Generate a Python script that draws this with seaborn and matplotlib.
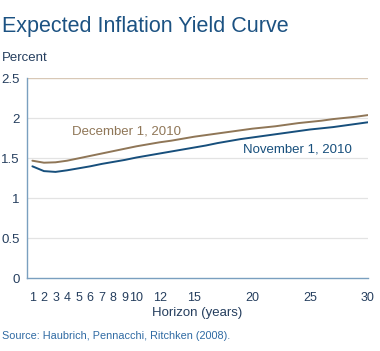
import numpy as np
import pandas as pd
import matplotlib
matplotlib.use('Agg')
import matplotlib.pyplot as plt
import seaborn as sns

years = list(range(1, 31))
nov_2010 = [1.40, 1.34, 1.33, 1.35, 1.375, 1.40, 1.43, 1.455, 1.48, 1.51,
            1.535, 1.56, 1.585, 1.61, 1.635, 1.66, 1.69, 1.715, 1.74, 1.76,
            1.78, 1.80, 1.82, 1.84, 1.86, 1.875, 1.89, 1.91, 1.93, 1.95]
dec_2010 = [1.47, 1.445, 1.45, 1.47, 1.50, 1.53, 1.56, 1.59, 1.62, 1.65,
            1.675, 1.70, 1.72, 1.745, 1.77, 1.79, 1.81, 1.83, 1.85, 1.87,
            1.885, 1.90, 1.92, 1.94, 1.955, 1.97, 1.99, 2.005, 2.02, 2.04]
xtick_vals = [1, 2, 3, 4, 5, 6, 7, 8, 9, 10, 12, 15, 20, 25, 30]
ytick_vals = [0, 0.5, 1, 1.5, 2, 2.5]
ytick_labels = ['0', '0.5', '1', '1.5', '2', '2.5']

df = pd.DataFrame({
    'year': years * 2,
    'value': nov_2010 + dec_2010,
    'series': ['November 1, 2010'] * 30 + ['December 1, 2010'] * 30,
})

sns.set_style('white')
plt.rcParams['font.family'] = ['Liberation Sans', 'DejaVu Sans']

navy = '#174f7c'
brown = '#8f7657'
text_col = '#253e5e'
axis_col = '#7a9fbf'

fig = plt.figure(figsize=(3.8, 3.51), dpi=100)
ax = fig.add_axes([0.070, 0.207, 0.898, 0.570])

# gridlines
for v in ytick_vals[1:-1]:
    ax.axhline(v, color='#e3e3e3', lw=0.9, zorder=0)
ax.axhline(2.5, color='#d8c8b6', lw=1.0, zorder=0)

sns.lineplot(data=df, x='year', y='value', hue='series',
             palette={'November 1, 2010': navy, 'December 1, 2010': brown},
             lw=1.4, legend=False, ax=ax)

ax.set_xlim(0.5, 30)
ax.set_ylim(0, 2.5)
ax.set_xticks(xtick_vals)
ax.set_xticklabels([str(v) for v in xtick_vals])
ax.set_xticks(np.arange(1.5, 30, 1.0), minor=True)
ax.set_yticks(ytick_vals)
ax.set_yticklabels(ytick_labels)
ax.tick_params(axis='x', which='major', length=0, pad=10, labelsize=9, labelcolor=text_col)
ax.tick_params(axis='x', which='minor', direction='in', length=3, width=0.8, color=axis_col)
ax.tick_params(axis='y', length=0, pad=5, labelsize=9.5, labelcolor=text_col)

for s in ['top', 'right']:
    ax.spines[s].set_visible(False)
for s in ['left', 'bottom']:
    ax.spines[s].set_color(axis_col)
    ax.spines[s].set_linewidth(1.0)

ax.set_xlabel('Horizon (years)', fontsize=9.5, color=text_col, labelpad=2)
ax.set_ylabel('')

ax.text(9.1, 1.83, 'December 1, 2010', color=brown, fontsize=9.5, ha='center', va='center')
ax.text(23.9, 1.615, 'November 1, 2010', color=navy, fontsize=9.5, ha='center', va='center')

fig.text(0.005, 0.91, 'Expected Inflation Yield Curve', fontsize=15.5, color='#1c5282', ha='left', va='baseline')
fig.text(0.005, 0.827, 'Percent', fontsize=9.5, color=text_col, ha='left', va='baseline')
fig.text(0.005, 0.035, 'Source: Haubrich, Pennacchi, Ritchken (2008).', fontsize=7.8, color='#2f6aa3', ha='left', va='baseline')

plt.savefig('out.png', dpi=100)
